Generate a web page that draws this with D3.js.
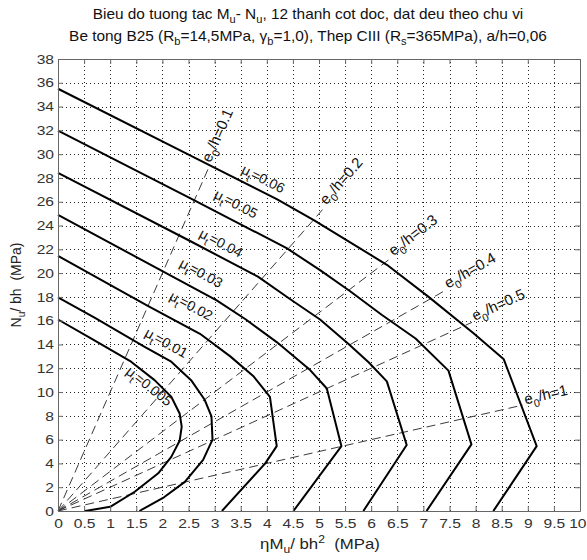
<!DOCTYPE html>
<html><head><meta charset="utf-8">
<script src="https://cdn.jsdelivr.net/npm/d3@7"></script>
<style>
body{margin:0;background:#fff}
svg{display:block}
text{font-family:"Liberation Sans",Arial,sans-serif;white-space:pre}
</style></head>
<body><svg id="chart" width="587" height="560"></svg>
<script>
// ---------- data ----------
const xTickValues = [0,0.5,1,1.5,2,2.5,3,3.5,4,4.5,5,5.5,6,6.5,7,7.5,8,8.5,9,9.5,10];
const xTickLabels = ["0","0.5","1","1.5","2","2.5","3","3.5","4","4.5","5","5.5","6","6.5","7","7.5","8","8.5","9","9.5","10"];
const yTickValues = [0,2,4,6,8,10,12,14,16,18,20,22,24,26,28,30,32,34,36,38];
const yTickLabels = ["0","2","4","6","8","10","12","14","16","18","20","22","24","26","28","30","32","34","36","38"];

const muNames = ["0.005","0.01","0.02","0.03","0.04","0.05","0.06"];
const curveMu0005 = [[0,16.1],[0.64,14.5],[1.40,12.55],[1.85,11.0],[2.17,9.6],[2.33,8.2],[2.37,7.1],[2.33,5.9],[2.17,4.55],[1.92,3.17],[1.47,1.62],[1.0,0.35],[0.52,0]];
const curveMu001  = [[0,17.95],[0.7,16.25],[1.66,13.8],[2.17,12.55],[2.55,11.0],[2.81,9.35],[2.94,7.95],[2.96,6.0],[2.78,4.3],[2.43,2.45],[2.03,1.15],[1.56,0]];
const curveMu002  = [[0,21.45],[1.72,17.25],[2.72,14.9],[3.3,13.0],[3.75,11.3],[4.06,9.6],[4.19,5.45],[3.97,4.0],[3.14,0]];
const curveMu003  = [[0,24.9],[3.04,17.7],[3.6,16.1],[4.19,14.2],[4.83,11.85],[5.15,10.3],[5.43,5.45],[4.51,0]];
const curveMu004  = [[0,28.42],[2.53,22.7],[3.83,19.7],[4.45,17.8],[5.02,16.1],[5.55,14.1],[5.95,12.5],[6.3,10.9],[6.68,5.55],[5.85,0]];
const curveMu005  = [[0,31.97],[2.53,26.3],[4.38,22.1],[5.02,20.25],[5.59,18.5],[6.2,16.5],[6.85,14.5],[7.48,11.8],[7.92,5.6],[7.06,0]];
const curveMu006  = [[0,35.5],[2.53,29.9],[4.2,26.2],[4.9,24.45],[6.3,20.7],[7.1,18.0],[7.96,14.95],[8.54,12.75],[9.17,5.45],[8.34,0]];
const muCurves = [curveMu0005,curveMu001,curveMu002,curveMu003,curveMu004,curveMu005,curveMu006];
const muLabelX = [1.69,2.03,2.51,2.70,3.08,3.37,3.89];
const muLabelY = [10.17,13.78,16.89,19.66,22.18,25.46,27.56];

const eRatios = [0.1,0.2,0.3,0.4,0.5,1];
const eRatioNames = ["0.1","0.2","0.3","0.4","0.5","1"];
const eLineEndX = [2.9,5.1,6.38,7.42,7.93,8.9];

// ---------- layout ----------
const svg = d3.select("#chart");
const x = d3.scaleLinear().domain([0,10]).range([58,580]);
const y = d3.scaleLinear().domain([0,38]).range([511,59]);
const SX = 1.2;   // horizontal stretch of tick labels
const TSX = 1.1;  // horizontal stretch of titles
const axisColor = "#666";

function rich(t, parts, fs) {
  let shift = 0;
  parts.forEach(([s,k]) => {
    const target = k===1 ? fs*0.32 : (k===2 ? -fs*0.42 : 0);
    const ts = t.append("tspan").text(s).attr("dy", target-shift);
    if (k) ts.attr("font-size", fs*0.72);
    shift = target;
  });
}

// grid
const grid = svg.append("g").attr("stroke","#222").attr("stroke-width",1).attr("stroke-dasharray","1,3");
grid.selectAll("line.v").data(xTickValues.filter(v=>v>0&&v<10)).join("line")
  .attr("class","v")
  .attr("x1",d=>Math.round(x(d))+0.5).attr("x2",d=>Math.round(x(d))+0.5)
  .attr("y1",y(0)).attr("y2",y(38));
grid.selectAll("line.h").data(yTickValues.filter(v=>v>0&&v<38)).join("line")
  .attr("class","h")
  .attr("y1",d=>Math.round(y(d))+0.5).attr("y2",d=>Math.round(y(d))+0.5)
  .attr("x1",x(0)).attr("x2",x(10));

// dashed eccentricity lines
const line = d3.line().x(d=>x(d[0])).y(d=>y(d[1]));
const eg = svg.append("g");
eRatios.forEach((e,i)=>{
  const ex = eLineEndX[i], ey = ex/e;
  eg.append("path").attr("d", line([[0,0],[ex,ey]]))
    .attr("fill","none").attr("stroke","#3a3a3a").attr("stroke-width",1).attr("stroke-dasharray","9,5");
  const dx = x(ex)-x(0), dy = y(ey)-y(0), L = Math.hypot(dx,dy);
  const px = x(ex)+dx/L*3, py = y(ey)+dy/L*3;
  const ang = Math.atan2(dy,dx)*180/Math.PI;
  const t = eg.append("text").attr("transform",`translate(${px},${py}) rotate(${ang})`)
    .attr("font-size",15).attr("dy","0.3em").attr("fill","#111");
  rich(t, [["e",0],["0",1],["/h="+eRatioNames[i],0]], 15);
});

// mu curves
const cg = svg.append("g");
muCurves.forEach((c,i)=>{
  cg.append("path").attr("d", line(c)).attr("fill","none")
    .attr("stroke","#000").attr("stroke-width",2).attr("stroke-linejoin","round");
  const lx = muLabelX[i], ly = muLabelY[i];
  let seg = 0;
  for (let k=0;k<c.length-1;k++){ if (c[k][0]<=lx && c[k+1][0]>=lx){ seg=k; break; } }
  const a = Math.atan2(y(c[seg+1][1])-y(c[seg][1]), x(c[seg+1][0])-x(c[seg][0]))*180/Math.PI;
  const t = cg.append("text").attr("transform",`translate(${x(lx)},${y(ly)}) rotate(${a})`)
    .attr("font-size",14).attr("text-anchor","middle").attr("dy","0.3em").attr("fill","#111");
  rich(t, [["\u03bc",0],["t",1],["="+muNames[i],0]], 14);
});

// axes (inside ticks, box)
const ax = svg.append("g");
const axB = ax.append("g").attr("transform",`translate(0,${y(0)})`)
  .call(d3.axisBottom(x).tickValues(xTickValues).tickFormat((d,i)=>xTickLabels[i]).tickSizeInner(-5).tickSizeOuter(0).tickPadding(8));
const axL = ax.append("g").attr("transform",`translate(${x(0)},0)`)
  .call(d3.axisLeft(y).tickValues(yTickValues).tickFormat((d,i)=>yTickLabels[i]).tickSizeInner(-5).tickSizeOuter(0).tickPadding(4));
ax.append("g").attr("transform",`translate(0,${y(38)})`)
  .call(d3.axisTop(x).tickValues(xTickValues).tickFormat("").tickSizeInner(-5).tickSizeOuter(0));
ax.append("g").attr("transform",`translate(${x(10)},0)`)
  .call(d3.axisRight(y).tickValues(yTickValues).tickFormat("").tickSizeInner(-5).tickSizeOuter(0));
ax.selectAll(".domain, .tick line").attr("stroke",axisColor);
ax.selectAll(".tick text").attr("font-size",13).attr("fill","#333");
axB.attr("font-family",null); axL.attr("font-family",null);
axB.selectAll(".tick text").attr("transform",`scale(${SX},1)`);
// keep the last label inside the page edge (right edge at 586px)
axB.selectAll(".tick text").filter(d=>d===10).attr("text-anchor","end").attr("x",(586 - x(10))/SX);
axL.selectAll(".tick text").each(function(){ const el=d3.select(this); el.attr("transform",`scale(${SX},1)`).attr("x", +el.attr("x")/SX); });

// titles
const t1 = svg.append("text").attr("transform",`translate(308,19) scale(${TSX},1)`).attr("text-anchor","middle").attr("font-size",14).attr("fill","#111");
rich(t1, [["Bieu do tuong tac M",0],["u",1],["- N",0],["u",1],[", 12 thanh cot doc, dat deu theo chu vi",0]], 14);
const t2 = svg.append("text").attr("transform",`translate(308,41) scale(${TSX},1)`).attr("text-anchor","middle").attr("font-size",14).attr("fill","#111");
rich(t2, [["Be tong B25 (R",0],["b",1],["=14,5MPa, \u03b3",0],["b",1],["=1,0), Thep CIII (R",0],["s",1],["=365MPa), a/h=0,06",0]], 14);

const xl = svg.append("text").attr("transform",`translate(320,549) scale(${SX},1)`).attr("text-anchor","middle").attr("font-size",14).attr("fill","#222");
rich(xl, [["\u03b7M",0],["u",1],["/ bh",0],["2",2],["  (MPa)",0]], 14);
const yl = svg.append("text").attr("transform",`translate(21,285) rotate(-90)`).attr("text-anchor","middle").attr("font-size",14).attr("fill","#222");
rich(yl, [["N",0],["u",1],["/ bh  (MPa)",0]], 14);
</script></body></html>
